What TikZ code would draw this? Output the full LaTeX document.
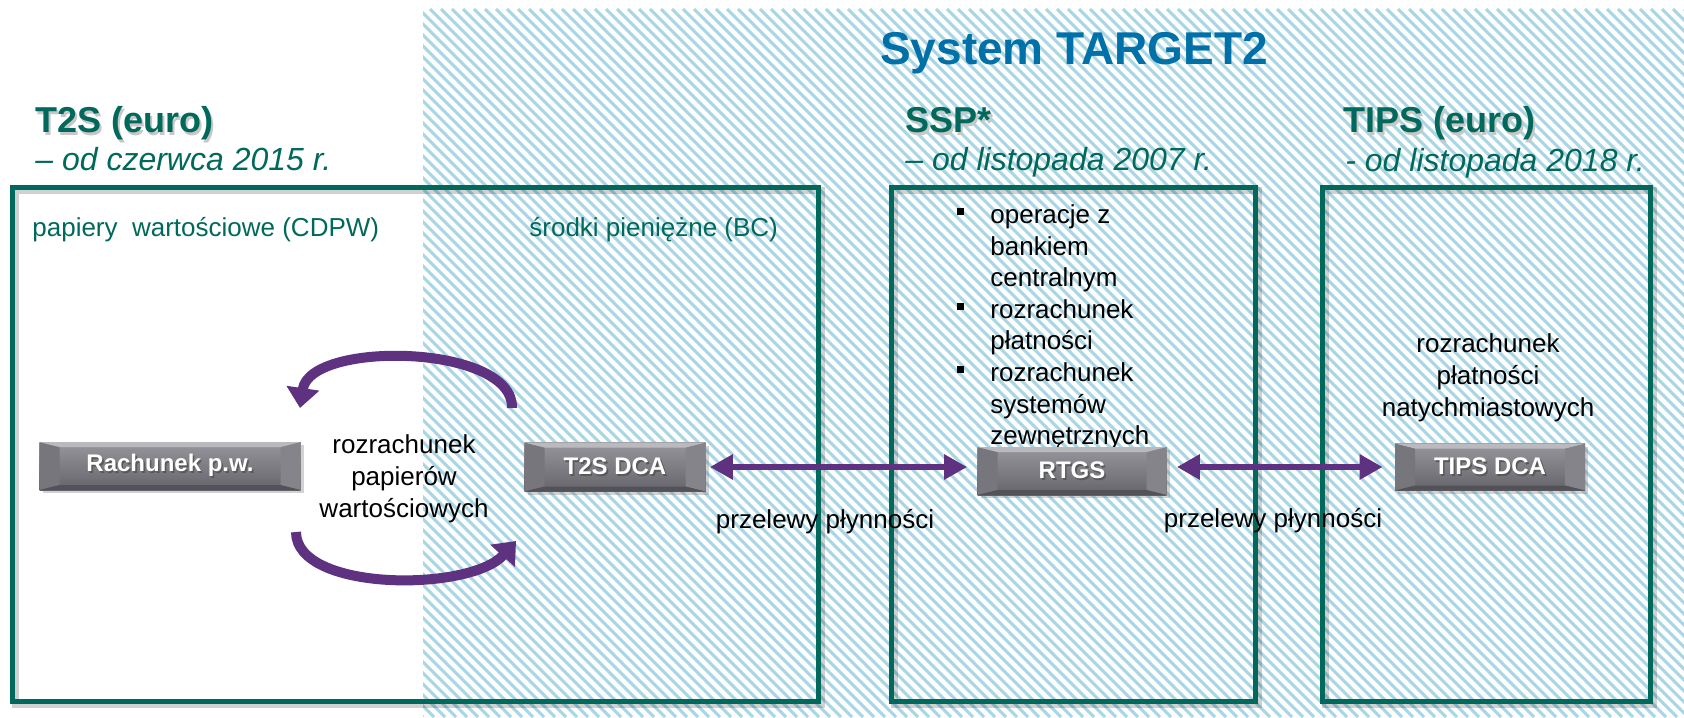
\documentclass[tikz,border=0pt]{standalone}
\usepackage{fontspec}
\setmainfont{Liberation Sans}
\usetikzlibrary{arrows.meta,shadows,calc}
\definecolor{teal2}{RGB}{0,105,92}
\definecolor{tblue}{RGB}{0,112,168}
\definecolor{purp}{RGB}{94,50,128}
\definecolor{hatchc}{RGB}{168,214,228}
\definecolor{btnTop}{RGB}{185,185,190}
\definecolor{btnBot}{RGB}{82,82,88}
\definecolor{btnL}{RGB}{118,118,124}
\definecolor{btnR}{RGB}{132,132,138}
\definecolor{btnF1}{RGB}{150,150,156}
\definecolor{btnF2}{RGB}{100,100,106}
\newcommand{\stA}{\rule{0pt}{10pt}}
\newcommand{\hsh}[1]{\rlap{\hspace{1.2pt}\raisebox{-1.2pt}{\textcolor{black!22}{#1}}}#1}
\newcommand{\bsh}[1]{\rlap{\hspace{0.8pt}\raisebox{-0.8pt}{\textcolor{black!65}{#1}}}#1}
\newcommand{\bul}{\llap{\rule[4pt]{3.5pt}{3.5pt}\hspace{13pt}}}
\tikzset{
  hatchline/.style={draw=hatchc, line width=1.5pt},
  frame/.style={rectangle, inner sep=0pt, draw=teal2, line width=2.5pt,
    preaction={draw=black, draw opacity=0.18, line width=3.5pt,
      transform canvas={shift={(1.6pt,-1.6pt)}}}},
  head/.style={inner sep=0pt, text=teal2, font=\bfseries\fontsize{18}{22}\selectfont},
  subhead/.style={inner sep=0pt, text=teal2, font=\itshape\fontsize{16}{19}\selectfont},
  lbl/.style={inner sep=0pt, text=teal2, font=\fontsize{13}{16}\selectfont},
  body/.style={inner sep=0pt, text=black, font=\fontsize{13}{16}\selectfont},
  btn/.style={rectangle, inner sep=0pt, text=white,
    font=\bfseries\fontsize{12}{14}\selectfont, fill=btnF2,
    drop shadow={shadow xshift=1.5pt, shadow yshift=-1.5pt, opacity=0.35},
    path picture={
      \shade[top color=btnF1, bottom color=btnF2]
        (path picture bounding box.north west) rectangle (path picture bounding box.south east);
      \fill[btnL] (path picture bounding box.north west)
        -- ([shift={(10pt,-2.5pt)}]path picture bounding box.north west)
        -- ([shift={(10pt,2.5pt)}]path picture bounding box.south west)
        -- (path picture bounding box.south west) -- cycle;
      \fill[btnR] (path picture bounding box.north east)
        -- ([shift={(-10pt,-2.5pt)}]path picture bounding box.north east)
        -- ([shift={(-10pt,2.5pt)}]path picture bounding box.south east)
        -- (path picture bounding box.south east) -- cycle;
      \fill[btnTop] (path picture bounding box.north west)
        -- (path picture bounding box.north east)
        -- ([shift={(-10pt,-2.5pt)}]path picture bounding box.north east)
        -- ([shift={(10pt,-2.5pt)}]path picture bounding box.north west) -- cycle;
      \fill[btnBot] (path picture bounding box.south west)
        -- (path picture bounding box.south east)
        -- ([shift={(-10pt,2.5pt)}]path picture bounding box.south east)
        -- ([shift={(10pt,2.5pt)}]path picture bounding box.south west) -- cycle;
    }},
  curv/.style={draw=purp, line width=5pt, -{Triangle[width=16pt,length=10pt]}},
  dbl/.style={draw=purp, line width=3pt,
    {Triangle[width=12pt,length=11.5pt]}-{Triangle[width=12pt,length=11.5pt]}}
}
\begin{document}
\begin{tikzpicture}[x=0.5pt,y=-0.5pt]
\useasboundingbox (0,0) rectangle (1684,717);
\fill[white] (0,0) rectangle (1684,717);
% hatched TARGET2 area
\begin{scope}
  \clip (423,9) rectangle (1684,717);
  \foreach \i in {0,...,180}{\draw[hatchline] ({-285+11*\i},9) -- ++(708,708);}
\end{scope}

% frames
\node[frame, minimum width=403pt, minimum height=257pt] (box1) at (415,444) {};
\node[frame, minimum width=182pt, minimum height=257pt] (box2) at (1073,444) {};
\node[frame, minimum width=164pt, minimum height=257pt] (box3) at (1486,444) {};

% titles
\node[inner sep=0pt, text=tblue, font=\bfseries\fontsize{23}{28}\selectfont, anchor=base] (target) at (1074,65) {System TARGET2};
\node[head, anchor=base west] (h1) at (35,133) {\hsh{T2S (euro)}};
\node[subhead, anchor=base west] (s1) at (35,170) {– od czerwca 2015 r.};
\node[head, anchor=base west] (h2) at (905,133) {\hsh{SSP*}};
\node[subhead, anchor=base west] (s2) at (905,170) {– od listopada 2007 r.};
\node[head, anchor=base west] (h3) at (1343,133) {\hsh{TIPS (euro)}};
\node[subhead, anchor=base west] (s3) at (1345,171) {- od listopada 2018 r.};

% labels
\node[lbl, anchor=base west] (cdpw) at (32,236) {papiery~ wartościowe (CDPW)};
\node[lbl, anchor=base west] (bc) at (529,236) {środki pieniężne (BC)};

\node[body, align=center, anchor=north] (rozpw) at (404,433) {\stA rozrachunek\\papierów\\wartościowych};
\node[inner sep=0pt, font=\fontsize{13}{15.8}\selectfont, align=left, anchor=north west] (ssplist) at (990,203)
  {\stA\bul operacje z\\bankiem\\centralnym\\\bul rozrachunek\\płatności\\\bul rozrachunek\\systemów\\zewnętrznych};
\node[body, align=center, anchor=north] (tipstxt) at (1488,332) {\stA rozrachunek\\płatności\\natychmiastowych};

% buttons
\node[btn, minimum width=130.5pt, minimum height=24pt] (rach) at (170,466) {\bsh{Rachunek p.w.}};
\node[btn, minimum width=90.5pt, minimum height=24.5pt] (t2s) at (615,467) {\bsh{T2S DCA}};
\node[btn, minimum width=94.5pt, minimum height=24pt] (rtgs) at (1072,471) {\bsh{RTGS}};
\node[btn, minimum width=95pt, minimum height=23.5pt] (tips) at (1490,467) {\bsh{TIPS DCA}};

% straight double arrows
\draw[dbl] ([xshift=2pt]t2s.east) -- ($(t2s.east -| rtgs.west)+(-5pt,0)$);
\draw[dbl] ($(rtgs.east |- tips.west)+(5pt,0)$) -- ([xshift=-6pt]tips.west);
\node[body, anchor=base] (prz1) at (825,528) {przelewy płynności};
\node[body, anchor=base] (prz2) at (1273,527) {przelewy płynności};

% curved settlement arrows
\coordinate (ta) at (512,408);
\coordinate (tb) at (300,408);
\coordinate (ba) at (296,532);
\coordinate (bb) at (516,541);
\draw[curv] (ta) .. controls (514,344) and (310,340) .. (tb);
\draw[curv] (ba) .. controls (296,592) and (470,592) .. (bb);
\end{tikzpicture}
\end{document}
